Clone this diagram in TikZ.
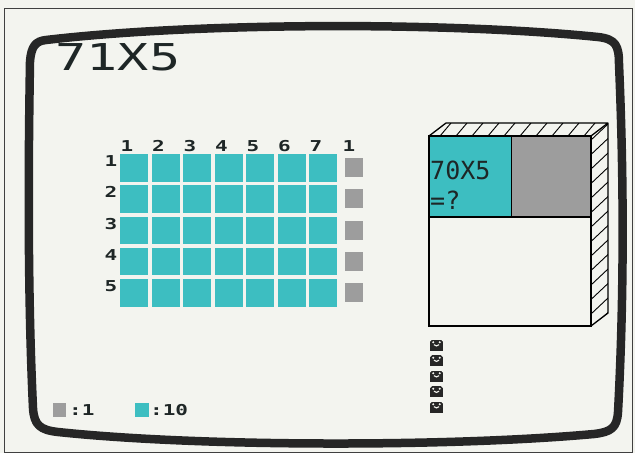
\documentclass[tikz,border=0pt]{standalone}
\usepackage{fontspec}
\usepackage{graphicx}
\usetikzlibrary{positioning}
\newfontfamily\pixfont{DejaVu Sans Mono}
\newcommand{\widetxt}[1]{\scalebox{1.4}[1]{#1}}
\definecolor{paper}{HTML}{F3F4EF}
\definecolor{tealsq}{HTML}{3DBEC1}
\definecolor{greysq}{HTML}{9D9D9D}
\definecolor{bezel}{HTML}{262626}
\definecolor{ink}{HTML}{1E2626}
\tikzset{
  tensq/.style    = {fill=tealsq, minimum width=28pt, minimum height=27.5pt,
                     inner sep=0pt},
  onesq/.style    = {fill=greysq, minimum width=18pt, minimum height=19pt,
                     inner sep=0pt},
  numlabel/.style = {font=\pixfont\bfseries\fontsize{15}{15}\selectfont,
                     inner sep=0pt, text=ink},
  screentext/.style = {font=\pixfont\fontsize{25}{27}\selectfont,
                     inner sep=0pt, text=ink},
  boxline/.style  = {draw=black, line width=1.3pt},
  hatch/.style    = {black, line width=0.9pt},
  bezelline/.style = {draw=bezel, line width=8.5pt, line join=round},
  cupicon/.pic    = {
    \fill[bezel] (-6.3,-5.5) rectangle (6.3,5.5);
    \fill[paper] (-6.3,-5.5) -- (-4.3,-5.5) -- (-6.3,-3.5) -- cycle;
    \fill[paper] (6.3,-5.5) -- (4.3,-5.5) -- (6.3,-3.5) -- cycle;
    \fill[paper] (-3.2,-2.8) circle (1.1) (3.2,-2.8) circle (1.1);
    \draw[paper, line width=1.1pt] (-2.6,-0.3) .. controls (-1,1.3) and (1,1.3) .. (2.6,-0.3);
  },
}

\begin{document}
\begin{tikzpicture}[x=1pt, y=-1pt]
    \useasboundingbox (0,0) rectangle (635,453);
    \fill[paper] (0,0) rectangle (635,453);
    % --- page frame and screen bezel ----------------------------------
    \draw[black!75, line width=0.9pt] (4,8) rectangle (632,452);
    \draw[bezelline] (46,40) .. controls (200,22) and (450,22) .. (598,37)
        .. controls (616,39) and (619,46) .. (619,64)
        .. controls (624,180) and (624,300) .. (618,412)
        .. controls (617,428) and (611,432) .. (594,434)
        .. controls (450,447) and (200,447) .. (58,432)
        .. controls (40,430) and (34,425) .. (33,408)
        .. controls (28,300) and (28,180) .. (30,62)
        .. controls (31,46) and (36,41) .. cycle;
    % --- title --------------------------------------------------------
    \node[inner sep=0pt, text=ink] (title) at (118,57)
        {\pixfont\fontsize{37}{40}\selectfont\scalebox{1.4}[1]{71X5}};
    % --- grid of tens and ones ----------------------------------------
    \foreach \c in {1,...,7} {
      \node[numlabel] (col\c) at ({127+31.5*(\c-1)},146) {\widetxt{\c}};
    }
    \node[numlabel] (colone) at (349,146) {\widetxt{1}};
    \foreach \r in {1,...,5} {
      \node[numlabel] (row\r) at (111,{161+31.3*(\r-1)}) {\widetxt{\r}};
      \foreach \c in {1,...,7} {
        \node[tensq] (ten\r\c) at ({134+31.5*(\c-1)},{167.75+31.3*(\r-1)}) {};
      }
      \node[onesq] (one\r) at (354,{167.5+31.3*(\r-1)}) {};
    }
    % --- box on the right ---------------------------------------------
    \fill[tealsq] (429,136) rectangle (511.7,217);
    \fill[greysq] (511.7,136) rectangle (591,217);
    \begin{scope}
      \clip (429,136) -- (446,123) -- (608,123) -- (591,136) -- cycle;
      \foreach \x in {424,440,...,616} {
        \draw[hatch] (\x,136) -- ++(11,-13);
      }
    \end{scope}
    \begin{scope}
      \clip (591,136) -- (608,123) -- (608,313) -- (591,326) -- cycle;
      \foreach \y in {140,154.5,...,345} {
        \draw[hatch] (591,\y) -- ++(17,-16);
      }
    \end{scope}
    \draw[boxline, line join=round] (429,136) -- (446,123) -- (608,123) -- (608,313) -- (591,326)
        (591,136) -- (608,123);
    \draw[boxline] (429,136) rectangle (591,326);
    \draw[boxline] (429,217) -- (591,217) (511.7,136) -- (511.7,217);
    \node[screentext, anchor=north west] (sum) at (430,161) {70X5};
    \node[screentext, anchor=north west] (ask) at (430,191) {=?};
    % --- tries left ---------------------------------------------------
    \foreach \k in {0,...,4} {
      \pic at (436.5,{345+15.5*\k}) {cupicon};
    }
    % --- legend -------------------------------------------------------
    \node[fill=greysq, minimum width=13pt, minimum height=14pt, inner sep=0pt] (keyone) at (59.5,409.5) {};
    \node[numlabel, anchor=west] (keyonetxt) at (69,410) {\widetxt{:1}};
    \node[fill=tealsq, minimum width=14pt, minimum height=14pt, inner sep=0pt] (keyten) at (142,409.5) {};
    \node[numlabel, anchor=west] (keytentxt) at (150,410) {\widetxt{:10}};
\end{tikzpicture}
\end{document}
